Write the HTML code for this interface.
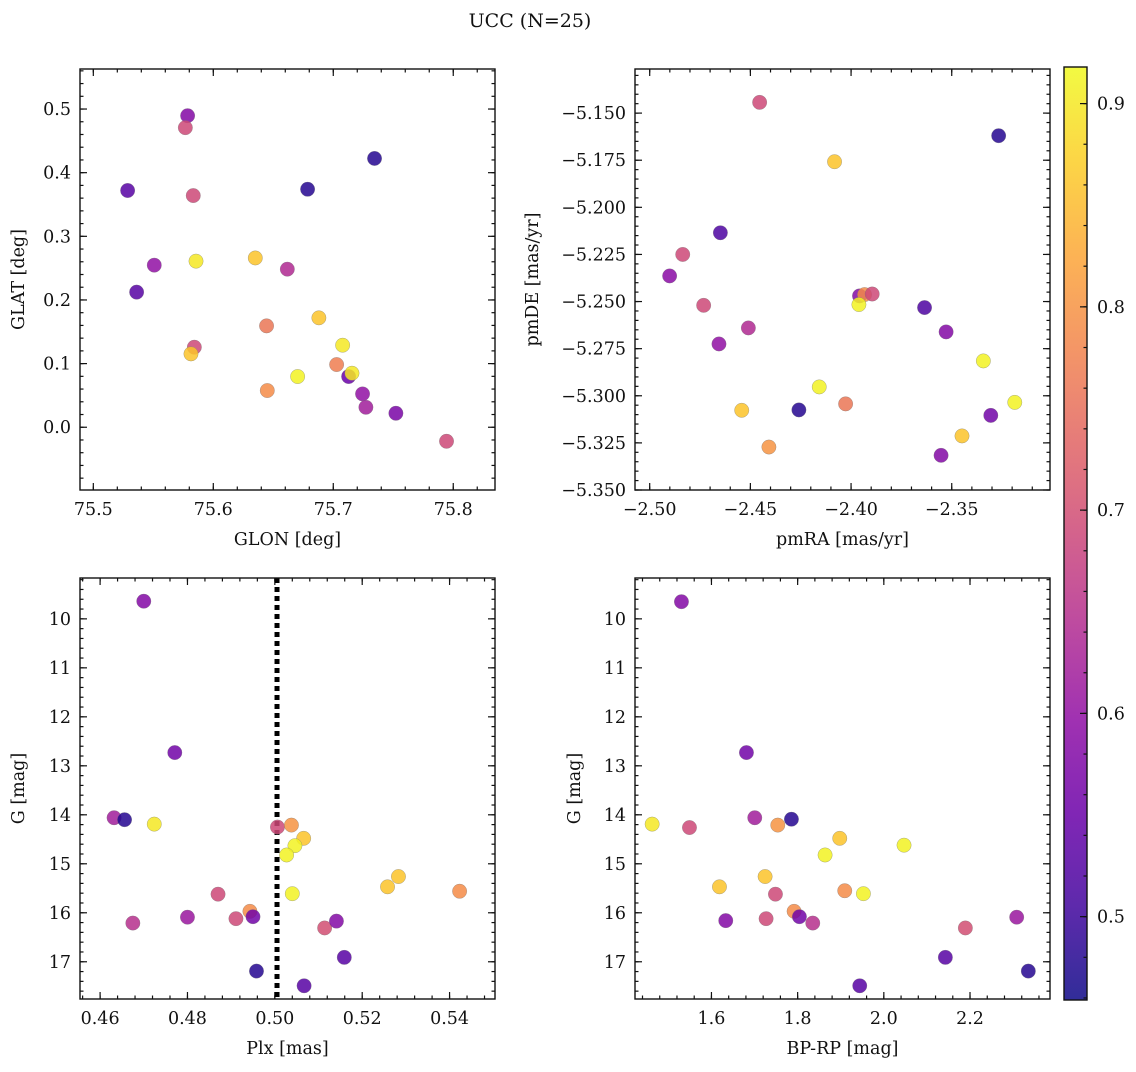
<!DOCTYPE html>
<html><head><meta charset="utf-8">
<style>
body{margin:0;background:#fff;}
svg text{font-family:"DejaVu Serif","Liberation Serif",serif;fill:#111;}
</style></head>
<body>
<svg id="fig" width="1136" height="1067" viewBox="0 0 1136 1067" xmlns="http://www.w3.org/2000/svg">
<text x="530" y="27" font-size="19" text-anchor="middle">UCC (N=25)</text>
</svg>
<script>
// Panel 1: GLON vs GLAT
const glonX=[75.5286,75.5786,75.5767,75.5833,75.5508,75.5361,75.5856,75.635,75.6617,75.6786,75.7344,75.688,75.6444,75.5842,75.5814,75.6703,75.645,75.7078,75.7028,75.7128,75.7156,75.7244,75.7272,75.7522,75.7944];
const glatY=[0.372,0.4895,0.4707,0.364,0.2547,0.2123,0.261,0.266,0.2484,0.374,0.4224,0.1719,0.1593,0.1258,0.1153,0.0797,0.0577,0.1289,0.0985,0.0797,0.0849,0.0524,0.0314,0.022,-0.022];
const p1Prob=[0.53,0.58,0.69,0.69,0.60,0.53,0.90,0.86,0.64,0.48,0.48,0.86,0.76,0.69,0.86,0.91,0.79,0.90,0.77,0.55,0.90,0.60,0.62,0.57,0.69];
// Panel 2: pmRA vs pmDE
const pmraX=[-2.4454,-2.3267,-2.4082,-2.4649,-2.4836,-2.4901,-2.4732,-2.451,-2.4656,-2.3958,-2.3933,-2.3895,-2.3961,-2.3635,-2.3528,-2.3343,-2.4158,-2.4543,-2.4259,-2.4027,-2.4408,-2.3187,-2.3306,-2.3449,-2.3553];
const pmdeY=[-5.1443,-5.162,-5.1758,-5.2135,-5.225,-5.2364,-5.252,-5.264,-5.2725,-5.247,-5.2463,-5.246,-5.2516,-5.2532,-5.2661,-5.2815,-5.2953,-5.3077,-5.3075,-5.3043,-5.3272,-5.3035,-5.3104,-5.3213,-5.3316];
const p2Prob=[0.69,0.48,0.86,0.52,0.69,0.59,0.69,0.64,0.60,0.58,0.79,0.69,0.91,0.52,0.58,0.91,0.91,0.86,0.48,0.76,0.80,0.91,0.56,0.86,0.58];
// Panel 3: Plx vs G
const plxX=[0.4700,0.4771,0.4632,0.4656,0.4724,0.5006,0.5038,0.5066,0.5046,0.5027,0.5040,0.5258,0.5283,0.5423,0.4870,0.4943,0.4950,0.4911,0.4800,0.4675,0.5114,0.5141,0.5159,0.4958,0.5067];
const gmagY3=[9.64,12.73,14.06,14.10,14.19,14.25,14.21,14.48,14.63,14.82,15.61,15.47,15.26,15.56,15.62,15.97,16.08,16.12,16.09,16.21,16.31,16.17,16.91,17.19,17.49];
const p3Prob=[0.58,0.56,0.62,0.48,0.90,0.69,0.80,0.86,0.91,0.91,0.91,0.86,0.86,0.79,0.69,0.79,0.56,0.69,0.61,0.65,0.70,0.58,0.53,0.48,0.53];
const plxRef=[0.5005];
// Panel 4: BP-RP vs G
const bprpX=[1.5304,1.6812,1.4624,1.549,1.7005,1.7539,1.7856,1.8977,1.8637,2.0469,1.6186,1.7245,1.7485,1.9093,1.9526,1.7918,1.8041,1.7268,1.6332,1.8351,2.1892,2.3083,2.1428,2.3353,1.9441];
const gmagY4=[9.65,12.73,14.19,14.26,14.06,14.21,14.09,14.48,14.82,14.62,15.47,15.26,15.62,15.55,15.61,15.97,16.08,16.12,16.16,16.21,16.31,16.09,16.91,17.19,17.49];
const p4Prob=[0.58,0.56,0.90,0.69,0.62,0.80,0.48,0.86,0.91,0.91,0.86,0.86,0.69,0.79,0.91,0.79,0.56,0.69,0.58,0.65,0.70,0.61,0.53,0.48,0.53];
// tick labels
const p1XTicks=[75.5,75.6,75.7,75.8];
const p1YTicks=[0.0,0.1,0.2,0.3,0.4,0.5];
const p2XTicks=[-2.50,-2.45,-2.40,-2.35];
const p2YTicks=[-5.350,-5.325,-5.300,-5.275,-5.250,-5.225,-5.200,-5.175,-5.150];
const p3XTicks=[0.46,0.48,0.50,0.52,0.54];
const gTicks=[10,11,12,13,14,15,16,17];
const p4XTicks=[1.6,1.8,2.0,2.2];
const cbTicks=[0.5,0.6,0.7,0.8,0.9];

const NS="http://www.w3.org/2000/svg";
const svg=document.getElementById('fig');
function mk(tag,attrs,parent){const e=document.createElementNS(NS,tag);for(const k in attrs)e.setAttribute(k,attrs[k]);(parent||svg).appendChild(e);return e;}
const stops=[[0,[13,8,135]],[0.1,[65,4,157]],[0.2,[106,0,168]],[0.3,[143,13,164]],[0.4,[177,42,144]],[0.5,[204,71,120]],[0.6,[225,100,98]],[0.7,[242,132,75]],[0.8,[252,166,54]],[0.9,[252,206,37]],[1,[240,249,33]]];
const vmin=0.459,vmax=0.918;
function plasma(v){let t=Math.max(0,Math.min(1,(v-vmin)/(vmax-vmin)));for(let i=1;i<stops.length;i++){if(t<=stops[i][0]){const a=stops[i-1],b=stops[i];const f=(t-a[0])/(b[0]-a[0]);const c=a[1].map((x,j)=>Math.round(x+(b[1][j]-x)*f));return `rgb(${c.join(',')})`;}}return 'rgb(240,249,33)';}
function fmt(v,d){return (v<0?'\u2212':'')+Math.abs(v).toFixed(d);}
const FS=17.5;

function panel(o){
  const g=mk('g',{});
  
  
  const {L,R,T,B}=o;
  const sx=v=>L+(v-o.xd[0])/(o.xd[1]-o.xd[0])*(R-L);
  const sy=v=>T+(v-o.yd[0])/(o.yd[1]-o.yd[0])*(B-T);
  const tk=mk('g',{stroke:'#111','stroke-width':1.2},g);
  
  
  const xa=Math.min(...o.xd),xb=Math.max(...o.xd),ya=Math.min(...o.yd),yb=Math.max(...o.yd);
  for(let v=Math.ceil(xa/o.xmin-1e-6)*o.xmin;v<=xb+1e-9;v+=o.xmin){const x=sx(v);mk('line',{x1:x,x2:x,y1:B,y2:B-3.5},tk);mk('line',{x1:x,x2:x,y1:T,y2:T+3.5},tk);}
  for(let v=Math.ceil(ya/o.ymin-1e-6)*o.ymin;v<=yb+1e-9;v+=o.ymin){const y=sy(v);mk('line',{x1:L,x2:L+3.5,y1:y,y2:y},tk);mk('line',{x1:R,x2:R-3.5,y1:y,y2:y},tk);}
  o.xt.forEach(v=>{const x=sx(v);mk('line',{x1:x,x2:x,y1:B,y2:B-7},tk);mk('line',{x1:x,x2:x,y1:T,y2:T+7},tk);
    const t=mk('text',{x:x,y:B+25,'font-size':FS,'text-anchor':'middle'},g);t.textContent=fmt(v,o.xdp);
    });
  o.yt.forEach(v=>{const y=sy(v);mk('line',{x1:L,x2:L+7,y1:y,y2:y},tk);mk('line',{x1:R,x2:R-7,y1:y,y2:y},tk);
    const t=mk('text',{x:L-9,y:y+6,'font-size':FS,'text-anchor':'end'},g);t.textContent=fmt(v,o.ydp);
    });
  if(o.vline!==undefined){const x=sx(o.vline);const l=mk('line',{x1:x,x2:x,y1:T,y2:B,stroke:'#000','stroke-width':5,'stroke-dasharray':'5 4'},g);
    }
  o.x.forEach((v,i)=>{const c=mk('circle',{cx:sx(v),cy:sy(o.y[i]),r:7.2,fill:plasma(o.p[i]),'fill-opacity':0.85,stroke:'#777','stroke-opacity':0.6,'stroke-width':0.5},g);
    });
  const fr=mk('rect',{x:L,y:T,width:R-L,height:B-T,fill:'none',stroke:'#111','stroke-width':1.4},g);
  
  const xl=mk('text',{x:(L+R)/2,y:B+55,'font-size':FS,'text-anchor':'middle'},g);xl.textContent=o.xlab;
  
  const yx=o.ylx,ym=(T+B)/2;
  const yl=mk('text',{x:yx,y:ym,'font-size':FS,'text-anchor':'middle',transform:`rotate(-90 ${yx} ${ym})`},g);yl.textContent=o.ylab;
  
}
panel({name:'glon-glat-panel',L:80,R:495,T:69,B:490,xd:[75.4889,75.8348],yd:[0.5629,-0.0986],xt:p1XTicks,yt:p1YTicks,xmin:0.02,ymin:0.02,xdp:1,ydp:1,x:glonX,y:glatY,p:p1Prob,xlab:'GLON [deg]',ylab:'GLAT [deg]',ylx:24});
panel({name:'pm-panel',L:635,R:1050,T:69,B:490,xd:[-2.5073,-2.3012],yd:[-5.1266,-5.35],xt:p2XTicks,yt:p2YTicks,xmin:0.01,ymin:0.005,xdp:2,ydp:3,x:pmraX,y:pmdeY,p:p2Prob,xlab:'pmRA [mas/yr]',ylab:'pmDE [mas/yr]',ylx:538});
panel({name:'plx-g-panel',L:80,R:495,T:578,B:999,xd:[0.4554,0.5504],yd:[9.166,17.76],xt:p3XTicks,yt:gTicks,xmin:0.004,ymin:0.2,xdp:2,ydp:0,x:plxX,y:gmagY3,p:p3Prob,xlab:'Plx [mas]',ylab:'G [mag]',ylx:24,vline:plxRef[0]});
panel({name:'cmd-panel',L:635,R:1050,T:578,B:999,xd:[1.4226,2.3856],yd:[9.166,17.76],xt:p4XTicks,yt:gTicks,xmin:0.04,ymin:0.2,xdp:1,ydp:0,x:bprpX,y:gmagY4,p:p4Prob,xlab:'BP-RP [mag]',ylab:'G [mag]',ylx:580});

// colorbar
const cb=mk('g',{});


const defs=mk('defs',{},cb);
const lg=mk('linearGradient',{id:'cbg',x1:0,y1:1,x2:0,y2:0},defs);
for(let i=0;i<=20;i++){const v=vmin+(vmax-vmin)*i/20;mk('stop',{offset:i/20,'stop-color':plasma(v),'stop-opacity':0.85},lg);}
const CL=1064,CR=1087,CT=67,CB=1000;
const cy=v=>CB-(v-vmin)/(vmax-vmin)*(CB-CT);
mk('rect',{x:CL,y:CT,width:CR-CL,height:CB-CT,fill:'url(#cbg)',stroke:'#111','stroke-width':1.4},cb);
for(let v=0.46;v<=0.918;v+=0.02){const y=cy(v);mk('line',{x1:CR,x2:CR-3.5,y1:y,y2:y,stroke:'#111','stroke-width':1.2},cb);}
cbTicks.forEach(v=>{const y=cy(v);mk('line',{x1:CR,x2:CR-7,y1:y,y2:y,stroke:'#111','stroke-width':1.2},cb);
  const t=mk('text',{x:CR+10,y:y+6,'font-size':FS},cb);t.textContent=v.toFixed(1);
  });
</script>
</body></html>
